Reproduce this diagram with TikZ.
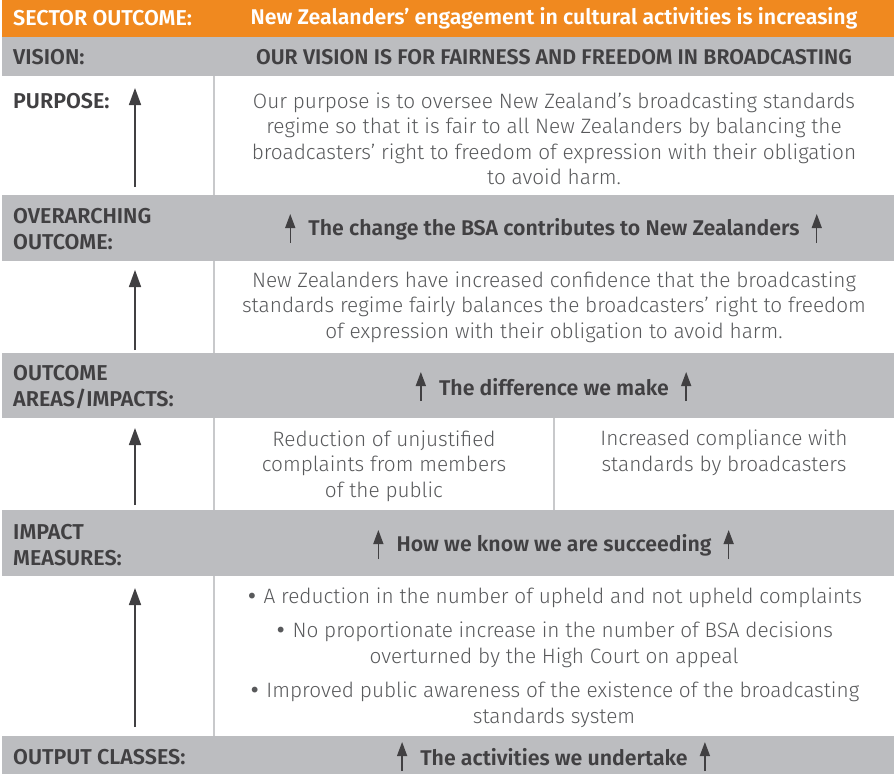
\documentclass[tikz,border=0pt]{standalone}
\usepackage{fontspec}
\setmainfont{Fira Sans}[UprightFont=* Light, BoldFont=* SemiBold]
\newfontfamily\bltfont{DejaVu Sans}
\usetikzlibrary{arrows.meta, positioning}
\definecolor{bsaorange}{RGB}{240,137,31}
\definecolor{bargrey}{RGB}{188,189,192}
\definecolor{inkdark}{RGB}{65,64,66}
\definecolor{inklight}{RGB}{88,89,91}
\definecolor{rulegrey}{RGB}{200,201,203}
\newcommand{\blt}{{\bltfont\fontsize{20}{0}\selectfont•}}

\tikzset{
  rowlabel/.style={anchor=west, align=left, inner sep=0pt, text=inkdark,
    font=\fontsize{21.5}{26}\selectfont\bfseries},
  headtext/.style={inner sep=0pt, text=inkdark, font=\fontsize{21.3}{26}\selectfont\bfseries},
  bodytext/.style={inner sep=0pt, align=center, text=inklight,
    font=\fontsize{20.8}{25.5}\selectfont},
  bigarrow/.style={draw=inkdark, line width=1.6pt, -{Triangle[length=17pt,width=12pt]}},
  smallarrow/.style={draw=inkdark, line width=1.4pt, -{Triangle[length=14pt,width=10pt]}},
  divider/.style={draw=rulegrey, line width=1.5pt}
}

\begin{document}
\begin{tikzpicture}[x=1pt, y=-1pt]
  \useasboundingbox (0,0) rectangle (894,774);

  % bands
  \fill[bsaorange] (2,0) rectangle (894,37);
  \fill[bargrey] (2,37) rectangle (894,76);
  \fill[bargrey] (2,195) rectangle (894,261);
  \fill[bargrey] (2,353) rectangle (894,418);
  \fill[bargrey] (2,510) rectangle (894,576);
  \fill[bargrey] (2,736) rectangle (894,774);

  % column rules
  \draw[divider] (214,76) -- (214,195);
  \draw[divider] (214,261) -- (214,353);
  \draw[divider] (214,418) -- (214,510);
  \draw[divider] (554,418) -- (554,510);
  \draw[divider] (214,576) -- (214,736);

  % left hand labels
  \node[rowlabel, text=white] (sector) at (13,18.5) {SECTOR OUTCOME:};
  \node[rowlabel] (vision) at (13,57) {VISION:};
  \node[rowlabel] (purpose) at (13,101) {PURPOSE:};
  \node[rowlabel] (overarch) at (13,229) {OVERARCHING\\OUTCOME:};
  \node[rowlabel] (areas) at (13,387) {OUTCOME\\AREAS/IMPACTS:};
  \node[rowlabel] (measures) at (13,545) {IMPACT\\MEASURES:};
  \node[rowlabel] (outputs) at (13,757) {OUTPUT CLASSES:};

  % band headings
  \node[headtext, text=white] (sectortxt) at (554,18.5)
    {New Zealanders’ engagement in cultural activities is increasing};
  \node[headtext] (visiontxt) at (554,57)
    {OUR VISION IS FOR FAIRNESS AND FREEDOM IN BROADCASTING};
  \node[headtext] (chg) at (554,229) {The change the BSA contributes to New Zealanders};
  \node[headtext] (diff) at (554,387) {The difference we make};
  \node[headtext] (know) at (554,545) {How we know we are succeeding};
  \node[headtext] (acts) at (554,757) {The activities we undertake};

  % body text
  \node[bodytext] (purposetxt) at (554,139)
    {Our purpose is to oversee New Zealand’s broadcasting standards\\
     regime so that it is fair to all New Zealanders by balancing the\\
     broadcasters’ right to freedom of expression with their obligation\\
     to avoid harm.};
  \node[bodytext] (confid) at (554,307)
    {New Zealanders have increased confidence that the broadcasting\\
     standards regime fairly balances the broadcasters’ right to freedom\\
     of expression with their obligation to avoid harm.};
  \node[bodytext] (unjust) at (384,466)
    {Reduction of unjustified\\complaints from members\\of the public};
  \node[bodytext] (comply) at (724,453)
    {Increased compliance with\\standards by broadcasters};
  \node[bodytext] (bulA) at (554,598)
    {\blt\ A reduction in the number of upheld and not upheld complaints};
  \node[bodytext] (bulB) at (554,645)
    {\blt\ No proportionate increase in the number of BSA decisions\\
     overturned by the High Court on appeal};
  \node[bodytext] (bulC) at (554,705)
    {\blt\ Improved public awareness of the existence of the broadcasting\\
     standards system};

  % upward arrows, left column
  \coordinate (a0) at (135,187);  \coordinate (b0) at (135,88);
  \coordinate (a1) at (135,350);  \coordinate (b1) at (135,270);
  \coordinate (a2) at (135,505);  \coordinate (b2) at (135,428);
  \coordinate (a3) at (135,727);  \coordinate (b3) at (135,588);
  \foreach \i in {0,...,3}
    \draw[bigarrow] (a\i) -- (b\i);

  % small arrows either side of the headings
  \foreach \h in {chg, diff, know, acts} {
    \draw[smallarrow] ([xshift=-18pt,yshift=-14pt]\h.west) -- ([xshift=-18pt,yshift=15pt]\h.west);
    \draw[smallarrow] ([xshift=17pt,yshift=-14pt]\h.east) -- ([xshift=17pt,yshift=15pt]\h.east);
  }
\end{tikzpicture}
\end{document}
